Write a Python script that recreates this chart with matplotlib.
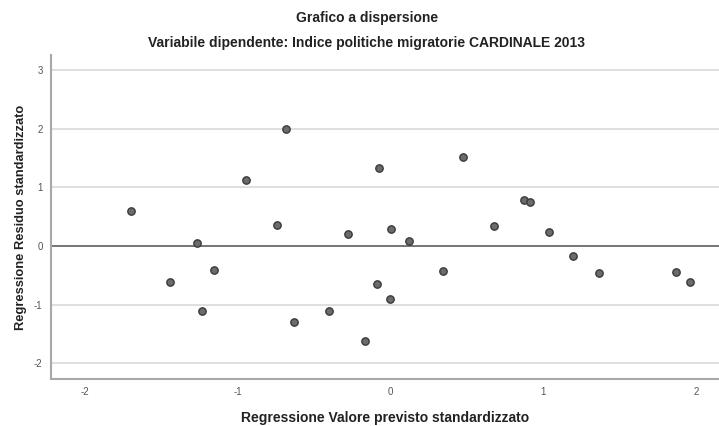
import matplotlib.pyplot as plt
import numpy as np

plt.rcParams['font.family'] = ['Liberation Sans', 'DejaVu Sans']
plt.rcParams['axes.unicode_minus'] = False

# valori previsti standardizzati / residui standardizzati
previsto = [-1.695, -1.44, -1.265, -1.233, -1.155, -0.944, -0.741, -0.682, -0.63,
            -0.401, -0.277, -0.166, -0.087, -0.074, 0.0, 0.005, 0.12, 0.344,
            0.475, 0.678, 0.874, 0.913, 1.038, 1.195, 1.365, 1.868, 1.96]
residuo = [0.60, -0.615, 0.05, -1.11, -0.41, 1.13, 0.36, 2.0, -1.30,
           -1.11, 0.205, -1.62, -0.65, 1.33, -0.90, 0.29, 0.085, -0.43,
           1.52, 0.34, 0.79, 0.75, 0.24, -0.17, -0.46, -0.44, -0.61]
xticks = [-2, -1, 0, 1, 2]
yticks = [-2, -1, 0, 1, 2, 3]

fig = plt.figure(figsize=(7.19, 4.26), dpi=100)
ax = fig.add_axes([0.0709, 0.1103, 0.929, 0.7606])

ax.set_xlim(-2.22, 2.15)
ax.set_ylim(-2.27, 3.26)
ax.set_xticks(xticks)
ax.set_yticks(yticks)
ax.grid(True, axis='y', color='#dcdcdc', linewidth=1.3)
ax.set_axisbelow(True)
ax.axhline(0, color='#6e6e6e', linewidth=1.3, zorder=1)

ax.scatter(previsto, residuo, s=28, color='#6b6b6b', edgecolors='#3a3a3a',
           linewidths=1.0, zorder=3)

for s in ['top', 'right']:
    ax.spines[s].set_visible(False)
for s in ['left', 'bottom']:
    ax.spines[s].set_color('#a8a8a8')
    ax.spines[s].set_linewidth(1.5)
ax.tick_params(axis='both', length=0, labelsize=7, labelcolor='#555555')
ax.tick_params(axis='y', pad=6)
ax.tick_params(axis='x', pad=6)

ax.set_xlabel('Regressione Valore previsto standardizzato', fontsize=10,
              fontweight='bold', color='#222222', labelpad=10)
ax.set_ylabel('Regressione Residuo standardizzato', fontsize=9.3,
              fontweight='bold', color='#222222', labelpad=5)

fig.text(0.51, 0.957, 'Grafico a dispersione', ha='center', va='center',
         fontsize=10, fontweight='bold', color='#222222')
fig.text(0.51, 0.898, 'Variabile dipendente: Indice politiche migratorie CARDINALE 2013',
         ha='center', va='center', fontsize=10, fontweight='bold', color='#222222')

fig.savefig('out.png', dpi=100)
